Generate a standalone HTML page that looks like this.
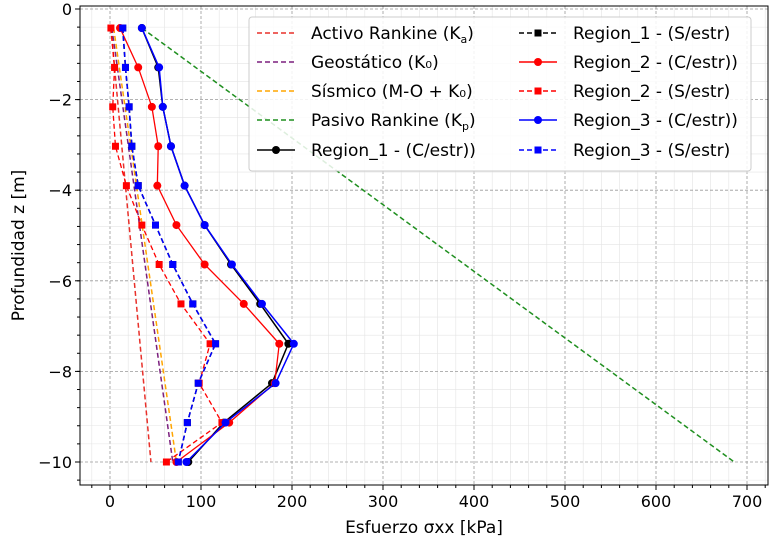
<!DOCTYPE html>
<html><head><meta charset="utf-8"><style>
body{margin:0;background:#fff;}
svg text{font-family:"DejaVu Sans","Liberation Sans",sans-serif;}
</style></head><body>
<svg id="c" width="777" height="548" xmlns="http://www.w3.org/2000/svg"></svg>
<script>
const depths=[0.42,1.29,2.16,3.03,3.9,4.77,5.64,6.51,7.39,8.26,9.13,10.0];
const r1C=[35,53,58,67,82,104,133,165,196,178,125,86];
const r1S=[14,17,21,24,31,50,69,91,116,97,85,75];
const r2C=[11,31,46,53,52,73,104,147,186,181,131,73];
const r2S=[1,5,3,6,18,35,54,78,110,98,123,62];
const r3C=[35,54,58,67,82,104,134,167,202,182,127,84];
const r3S=[14,17,21,24,31,50,69,91,116,97,85,75];
const thDepth=[0.42,10];
const activo=[1,45];
const geo=[2,69];
const sismico=[4,73];
const pasivo=[35,686];
const xTicks=[0,100,200,300,400,500,600,700];
const yTicks=[0,-2,-4,-6,-8,-10];
const L=80,R=768,T=6,B=485;
const X=v=>110+v*0.91, Y=z=>9+(-z)*45.3, Yd=d=>9+d*45.3;
const svg=document.getElementById('c');const NS='http://www.w3.org/2000/svg';
function el(t,a,p){const e=document.createElementNS(NS,t);for(const k in a)e.setAttribute(k,a[k]);(p||svg).appendChild(e);return e;}
const grid=el('g',{});


for(let v=-20;v<=720;v+=20){const x=X(v);if(x<L||x>R)continue;el('line',{x1:x,x2:x,y1:T,y2:B,stroke:v%100==0?'#999':'#e4e4e4','stroke-width':v%100==0?0.8:0.6,'stroke-dasharray':v%100==0?'3,2':'none'},grid);}
for(let i=0;i<=26;i++){const z=-i*0.4;const y=Y(z);if(y>B)continue;const maj=Math.abs(z/2-Math.round(z/2))<1e-6;el('line',{x1:L,x2:R,y1:y,y2:y,stroke:maj?'#999':'#e4e4e4','stroke-width':maj?0.8:0.6,'stroke-dasharray':maj?'3,2':'none'},grid);}
el('rect',{x:L,y:T,width:R-L,height:B-T,fill:'none',stroke:'#000','stroke-width':1});
xTicks.forEach(v=>{const x=X(v);el('line',{x1:x,x2:x,y1:B,y2:B+5,stroke:'#000'});const t=el('text',{x:x,y:B+22,'text-anchor':'middle','font-size':16});t.textContent=v;});
for(let v=-20;v<=720;v+=20){const x=X(v);if(x<L||x>R)continue;el('line',{x1:x,x2:x,y1:B,y2:B+3,stroke:'#000'});}
yTicks.forEach(v=>{const y=Y(v);el('line',{x1:L-5,x2:L,y1:y,y2:y,stroke:'#000'});const t=el('text',{x:L-8,y:y+6,'text-anchor':'end','font-size':16});t.textContent=v===0?'0':'\u2212'+(-v);});
for(let i=0;i<=26;i++){const y=Y(-i*0.4);if(y>B)continue;el('line',{x1:L-3,x2:L,y1:y,y2:y,stroke:'#000'});}
let t=el('text',{x:(L+R)/2,y:533,'text-anchor':'middle','font-size':17});t.textContent='Esfuerzo σxx [kPa]';

t=el('text',{x:24,y:(T+B)/2,'text-anchor':'middle','font-size':17,transform:`rotate(-90 24 ${(T+B)/2})`});t.textContent='Profundidad z [m]';

function series(vals,ds,color,dash,marker,name,w){
 const g=el('g',{});
 
 
 el('polyline',{points:vals.map((v,i)=>X(v)+','+Yd(ds[i])).join(' '),fill:'none',stroke:color,'stroke-width':w||1.5,'stroke-dasharray':dash?'5,3':'none'},g);
 if(marker==='o')vals.forEach((v,i)=>el('circle',{cx:X(v),cy:Yd(ds[i]),r:4,fill:color},g));
 if(marker==='s')vals.forEach((v,i)=>el('rect',{x:X(v)-3.5,y:Yd(ds[i])-3.5,width:7,height:7,fill:color},g));
}
series(activo,thDepth,'#e8302a',true,null,'activo-line');
series(geo,thDepth,'#7b1f7e',true,null,'geostatico-line');
series(sismico,thDepth,'#ffa500',true,null,'sismico-line');
series(pasivo,thDepth,'#1f8f1f',true,null,'pasivo-line');
series(r1C,depths,'#000',false,'o','region1-c-line');
series(r1S,depths,'#000',true,'s','region1-s-line');
series(r2C,depths,'#ff0000',false,'o','region2-c-line',1.3);
series(r2S,depths,'#ff0000',true,'s','region2-s-line',1.3);
series(r3C,depths,'#0000ff',false,'o','region3-c-line');
series(r3S,depths,'#0000ff',true,'s','region3-s-line');
const lg=el('g',{});


el('rect',{x:249,y:17,width:502,height:154,rx:3,fill:'rgba(255,255,255,0.85)',stroke:'#ccc'},lg);
const ent=[
 [257,33,'#e8302a',true,null,'Activo Rankine (K<tspan font-size="11" dy="4">a</tspan><tspan dy="-4">)</tspan>'],
 [257,62,'#7b1f7e',true,null,'Geostático (K₀)'],
 [257,91,'#ffa500',true,null,'Sísmico (M-O + K₀)'],
 [257,120,'#1f8f1f',true,null,'Pasivo Rankine (K<tspan font-size="11" dy="4">p</tspan><tspan dy="-4">)</tspan>'],
 [257,150,'#000',false,'o','Region_1 - (C/estr))'],
 [519,33,'#000',true,'s','Region_1 - (S/estr)'],
 [519,62,'#ff0000',false,'o','Region_2 - (C/estr))'],
 [519,91,'#ff0000',true,'s','Region_2 - (S/estr)'],
 [519,120,'#0000ff',false,'o','Region_3 - (C/estr))'],
 [519,150,'#0000ff',true,'s','Region_3 - (S/estr)']];
ent.forEach(e=>{const g=el('g',{},lg);
 
 
 el('line',{x1:e[0],x2:e[0]+38,y1:e[1],y2:e[1],stroke:e[2],'stroke-width':1.5,'stroke-dasharray':e[3]?'5,3':'none'},g);
 if(e[4]==='o')el('circle',{cx:e[0]+19,cy:e[1],r:4,fill:e[2]},g);
 if(e[4]==='s')el('rect',{x:e[0]+15.5,y:e[1]-3.5,width:7,height:7,fill:e[2]},g);
 const tx=el('text',{x:e[0]+54,y:e[1]+6,'font-size':17},g);tx.innerHTML=e[5];});
</script>
</body></html>
